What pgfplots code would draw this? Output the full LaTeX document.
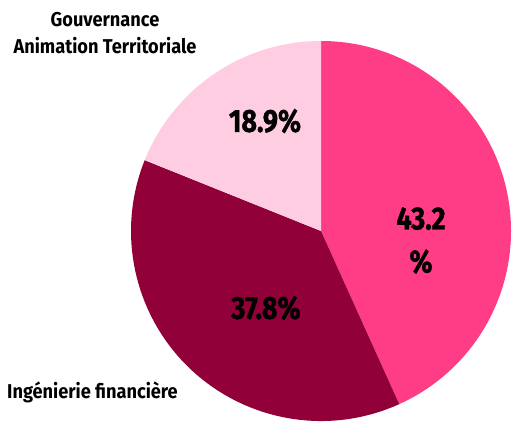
\documentclass[border=0pt]{standalone}
\usepackage{pgfplots}
\pgfplotsset{compat=1.18}
\usepackage{pgfplotstable}
\usepackage{fontspec}
\setmainfont{Fira Sans}[FakeStretch=0.91]
\newfontfamily\pctfont{Fira Sans}[FakeStretch=0.84, BoldFeatures={FakeBold=1.2}]
\definecolor{pinkA}{HTML}{FF3C86}
\definecolor{darkB}{HTML}{92003A}
\definecolor{lightC}{HTML}{FFCDE1}
% slice values (percent), clockwise from the top
\pgfplotstableread{
name value
Animation 43.2
Ingenierie 37.8
Gouvernance 18.9
}\piedata
\pgfplotstablegetelem{0}{value}\of\piedata \let\va\pgfplotsretval
\pgfplotstablegetelem{1}{value}\of\piedata \let\vb\pgfplotsretval
\pgfplotstablegetelem{2}{value}\of\piedata \let\vc\pgfplotsretval
\pgfmathsetmacro{\tot}{\va+\vb+\vc}
\pgfmathsetmacro{\aA}{90}
\pgfmathsetmacro{\aB}{90-\va/\tot*360}
\pgfmathsetmacro{\aC}{\aB-\vb/\tot*360}
\pgfmathsetmacro{\aD}{-270}
\begin{document}
\begin{tikzpicture}
\begin{axis}[scale only axis, width=513pt, height=422pt,
  xmin=0, xmax=513, ymin=0, ymax=422, hide axis, clip=false]
\path (axis cs:0,0) rectangle (axis cs:513,422);
\fill[pinkA] (axis cs:321,191) -- (axis cs:321,381) arc[start angle=\aA, end angle=\aB, radius=190pt] -- cycle;
\fill[darkB] (axis cs:321,191) -- ++(\aB:190pt) arc[start angle=\aB, end angle=\aC, radius=190pt] -- cycle;
\fill[lightC] (axis cs:321,191) -- ++(\aC:190pt) arc[start angle=\aC, end angle=\aD, radius=190pt] -- cycle;
\node[font=\pctfont\bfseries\fontsize{32}{43}\selectfont, align=center] at (axis cs:421,181.5) {43.2\\\%};
\node[font=\pctfont\bfseries\fontsize{32}{38}\selectfont] at (axis cs:266,114) {37.8\%};
\node[font=\pctfont\bfseries\fontsize{32}{38}\selectfont] at (axis cs:265,301) {18.9\%};
\node[font=\bfseries\fontsize{20}{27}\selectfont, align=center] at (axis cs:105,388.5) {Gouvernance\\Animation Territoriale};
\node[font=\bfseries\fontsize{20}{27}\selectfont, anchor=west, inner xsep=0pt] at (axis cs:7,30) {Ingénierie financière};
\end{axis}
\end{tikzpicture}
\end{document}
